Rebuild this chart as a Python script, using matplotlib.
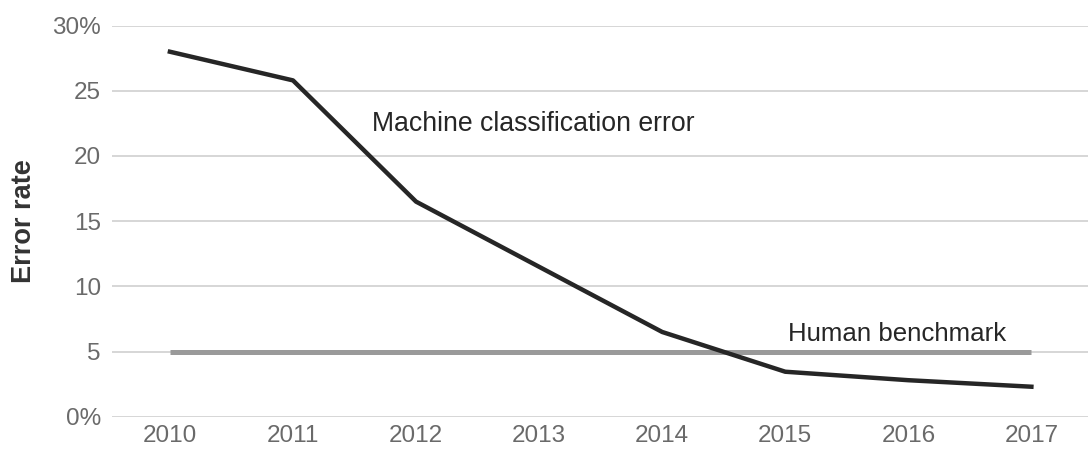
import numpy as np
import matplotlib
matplotlib.use('Agg')
import matplotlib.pyplot as plt

plt.rcParams['font.family'] = ['Liberation Sans', 'DejaVu Sans']

# ── data ──
years          = [2010, 2011, 2012, 2013, 2014, 2015, 2016, 2017]
machine_error  = [28.0, 25.8, 16.5, 11.5, 6.5, 3.45, 2.8, 2.3]
human_bench    = [5, 5]
human_years    = [2010, 2017]
y_ticks        = [0, 5, 10, 15, 20, 25, 30]
y_ticklabels   = ['0%', '5', '10', '15', '20', '25', '30%']

fig = plt.figure(figsize=(10.88, 4.5), dpi=100)
ax = fig.add_axes([0.103, 0.074, 0.897, 0.869])

ax.plot(human_years, human_bench, color='#9a9a9a', lw=3.6, solid_capstyle='butt', zorder=3)
ax.plot(years, machine_error, color='#262626', lw=3.2, solid_joinstyle='round', zorder=4)

ax.set_xlim(2009.53, 2017.46)
ax.set_ylim(0, 30)
ax.set_yticks(y_ticks)
ax.set_yticklabels(y_ticklabels)
ax.set_xticks(years)
ax.set_xticklabels([str(y) for y in years])

ax.grid(axis='y', color='#cfcfcf', lw=1.2, zorder=0)
ax.set_axisbelow(True)
for s in ax.spines.values():
    s.set_visible(False)
ax.tick_params(axis='both', length=0, labelsize=17.5, colors='#6a6a6a')
ax.tick_params(axis='y', pad=8)
ax.tick_params(axis='x', pad=6)

ax.set_ylabel('Error rate', fontsize=19.5, fontweight='bold', color='#333333', labelpad=11)

ax.text(2011.64, 22.45, 'Machine classification error', fontsize=19.2, color='#262626',
        va='center', ha='left')
ax.text(2015.02, 6.35, 'Human benchmark', fontsize=18.6, color='#262626',
        va='center', ha='left')

fig.savefig('out.png', dpi=100)
